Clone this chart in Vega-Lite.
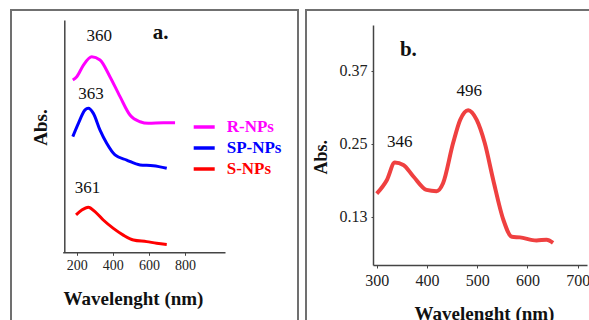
{
  "$schema": "https://vega.github.io/schema/vega-lite/v6.json",
  "padding": {"left": 10, "top": 9, "right": 0, "bottom": 0},
  "background": "white",
  "spacing": 6,
  "config": {
    "view": {"stroke": "#707070", "strokeWidth": 2},
    "font": "Liberation Serif",
    "axis": {"grid": false, "labelFont": "Liberation Serif", "titleFont": "Liberation Serif", "domainColor": "#444444", "domainWidth": 1.5, "tickColor": "#444444", "labelColor": "#222222", "titleColor": "#111111", "titleFontWeight": "bold"}
  },
  "datasets": {
    "a": [
      {"sample": "R-NPs", "wl": 178, "abs": 0.742},
      {"sample": "R-NPs", "wl": 200, "abs": 0.756},
      {"sample": "R-NPs", "wl": 237, "abs": 0.806},
      {"sample": "R-NPs", "wl": 283, "abs": 0.842},
      {"sample": "R-NPs", "wl": 329, "abs": 0.828},
      {"sample": "R-NPs", "wl": 384, "abs": 0.756},
      {"sample": "R-NPs", "wl": 440, "abs": 0.670},
      {"sample": "R-NPs", "wl": 495, "abs": 0.591},
      {"sample": "R-NPs", "wl": 551, "abs": 0.562},
      {"sample": "R-NPs", "wl": 597, "abs": 0.555},
      {"sample": "R-NPs", "wl": 680, "abs": 0.558},
      {"sample": "R-NPs", "wl": 745, "abs": 0.558},
      {"sample": "SP-NPs", "wl": 178, "abs": 0.498},
      {"sample": "SP-NPs", "wl": 209, "abs": 0.555},
      {"sample": "SP-NPs", "wl": 246, "abs": 0.613},
      {"sample": "SP-NPs", "wl": 264, "abs": 0.620},
      {"sample": "SP-NPs", "wl": 292, "abs": 0.598},
      {"sample": "SP-NPs", "wl": 329, "abs": 0.526},
      {"sample": "SP-NPs", "wl": 366, "abs": 0.469},
      {"sample": "SP-NPs", "wl": 412, "abs": 0.419},
      {"sample": "SP-NPs", "wl": 477, "abs": 0.397},
      {"sample": "SP-NPs", "wl": 551, "abs": 0.376},
      {"sample": "SP-NPs", "wl": 624, "abs": 0.373},
      {"sample": "SP-NPs", "wl": 699, "abs": 0.362},
      {"sample": "S-NPs", "wl": 196, "abs": 0.161},
      {"sample": "S-NPs", "wl": 228, "abs": 0.182},
      {"sample": "S-NPs", "wl": 264, "abs": 0.194},
      {"sample": "S-NPs", "wl": 301, "abs": 0.175},
      {"sample": "S-NPs", "wl": 347, "abs": 0.139},
      {"sample": "S-NPs", "wl": 403, "abs": 0.103},
      {"sample": "S-NPs", "wl": 458, "abs": 0.074},
      {"sample": "S-NPs", "wl": 514, "abs": 0.053},
      {"sample": "S-NPs", "wl": 588, "abs": 0.046},
      {"sample": "S-NPs", "wl": 643, "abs": 0.039},
      {"sample": "S-NPs", "wl": 699, "abs": 0.034}
    ],
    "alab": [
      {"label": "360", "wl": 325, "abs": 0.931},
      {"label": "363", "wl": 279, "abs": 0.680},
      {"label": "361", "wl": 259, "abs": 0.278}
    ],
    "b": [
      {"wl": 300, "abs": 0.168},
      {"wl": 320, "abs": 0.190},
      {"wl": 336, "abs": 0.219},
      {"wl": 353, "abs": 0.215},
      {"wl": 373, "abs": 0.196},
      {"wl": 399, "abs": 0.174},
      {"wl": 419, "abs": 0.172},
      {"wl": 432, "abs": 0.185},
      {"wl": 452, "abs": 0.251},
      {"wl": 466, "abs": 0.289},
      {"wl": 482, "abs": 0.305},
      {"wl": 499, "abs": 0.289},
      {"wl": 515, "abs": 0.251},
      {"wl": 532, "abs": 0.190},
      {"wl": 552, "abs": 0.125},
      {"wl": 569, "abs": 0.097},
      {"wl": 585, "abs": 0.096},
      {"wl": 618, "abs": 0.091},
      {"wl": 638, "abs": 0.092},
      {"wl": 651, "abs": 0.087}
    ],
    "blab": [
      {"label": "346", "wl": 346, "abs": 0.252},
      {"label": "496", "wl": 484, "abs": 0.337}
    ]
  },
  "hconcat": [
    {
      "width": 287,
      "height": 312,
      "layer": [
        {
          "data": {"name": "a"},
          "mark": {"type": "line", "strokeWidth": 3, "interpolate": "monotone"},
          "encoding": {
            "x": {"field": "wl", "type": "quantitative",
              "scale": {"domain": [122, 1022], "range": [51.7, 214], "nice": false, "zero": false},
              "axis": {"title": "Wavelenght (nm)", "values": [200, 400, 600, 800], "offset": -69.7, "labelFontSize": 14, "tickSize": 3, "labelPadding": 3, "titleFontSize": 19, "titleX": 122, "titleY": 45.7, "titleBaseline": "middle"}},
            "y": {"field": "abs", "type": "quantitative",
              "scale": {"domain": [0, 1], "range": [242.3, 10], "nice": false, "zero": false},
              "axis": {"title": "Abs.", "labels": false, "ticks": false, "offset": -53.3, "titleFontSize": 19, "titleX": -24.3, "titleY": 117, "titleBaseline": "middle", "titleAngle": 270}},
            "color": {"field": "sample", "type": "nominal",
              "scale": {"domain": ["R-NPs", "SP-NPs", "S-NPs"], "range": ["#ff00ff", "#0000ff", "#ff0000"]},
              "legend": {"title": null, "orient": "none", "legendX": 180.7, "legendY": 104.5, "padding": 0,
                "symbolType": "stroke", "symbolSize": 441, "symbolStrokeWidth": 3.5, "rowPadding": -3,
                "labelFont": "Liberation Serif", "labelFontSize": 17, "labelFontWeight": "bold", "labelOffset": 10,
                "encode": {"labels": {"update": {"fill": {"signal": "datum.value === 'R-NPs' ? '#ff00ff' : datum.value === 'SP-NPs' ? '#0000ff' : '#ff0000'"}}}}}}
          }
        },
        {
          "data": {"name": "alab"},
          "mark": {"type": "text", "fontSize": 17, "font": "Liberation Serif", "color": "#111111"},
          "encoding": {
            "x": {"field": "wl", "type": "quantitative"},
            "y": {"field": "abs", "type": "quantitative"},
            "text": {"field": "label"}
          }
        },
        {
          "data": {"values": [{}]},
          "mark": {"type": "text", "fontSize": 21, "fontWeight": "bold", "font": "Liberation Serif", "color": "#111111"},
          "encoding": {
            "x": {"datum": 665, "type": "quantitative"},
            "y": {"datum": 0.943, "type": "quantitative"},
            "text": {"value": "a."}
          }
        }
      ]
    },
    {
      "width": 290,
      "height": 312,
      "layer": [
        {
          "data": {"name": "b"},
          "mark": {"type": "line", "strokeWidth": 4, "interpolate": "monotone", "color": "#ef4040"},
          "encoding": {
            "x": {"field": "wl", "type": "quantitative",
              "scale": {"domain": [292.6, 718.5], "range": [67, 281], "nice": false, "zero": false},
              "axis": {"title": "Wavelenght (nm)", "values": [300, 400, 500, 600, 700], "offset": -57, "labelFontSize": 16, "tickSize": 3, "labelPadding": 4, "titleFontSize": 19, "titleX": 178, "titleY": 48, "titleBaseline": "middle"}},
            "y": {"field": "abs", "type": "quantitative",
              "scale": {"domain": [0.0506, 0.445], "range": [255, 15], "nice": false, "zero": false},
              "axis": {"title": "Abs.", "values": [0.13, 0.25, 0.37], "format": ".2f", "offset": -67, "labelFontSize": 16, "tickSize": 2, "labelPadding": 4, "titleFontSize": 18, "titleX": -51.3, "titleY": 146.7, "titleBaseline": "middle", "titleAngle": 270}}
          }
        },
        {
          "data": {"name": "blab"},
          "mark": {"type": "text", "fontSize": 17, "font": "Liberation Serif", "color": "#111111"},
          "encoding": {
            "x": {"field": "wl", "type": "quantitative"},
            "y": {"field": "abs", "type": "quantitative"},
            "text": {"field": "label"}
          }
        },
        {
          "data": {"values": [{}]},
          "mark": {"type": "text", "fontSize": 21, "fontWeight": "bold", "font": "Liberation Serif", "color": "#111111"},
          "encoding": {
            "x": {"datum": 363, "type": "quantitative"},
            "y": {"datum": 0.4045, "type": "quantitative"},
            "text": {"value": "b."}
          }
        }
      ]
    }
  ]
}
